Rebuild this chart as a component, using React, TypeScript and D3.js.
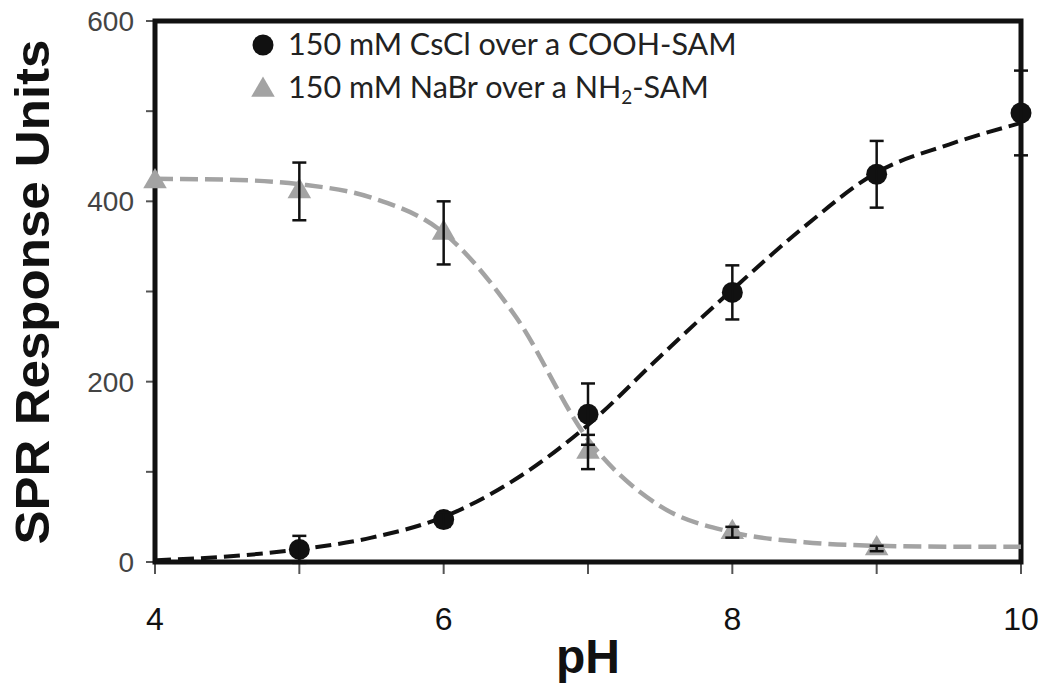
import React from "react";
import * as d3 from "d3";

// ---- data ----
const csclPH = [5, 6, 7, 8, 9, 10];
const csclMean = [14, 47, 164, 299, 430, 498];
const csclErr = [15, 8, 34, 30, 37, 47];

const nabrPH = [4, 5, 6, 7, 8, 9];
const nabrMean = [422, 411, 365, 122, 33, 15];
const nabrErr = [0, 32, 35, 19, 6, 3];

// fitted (dashed) curves
const fitPH = [4, 4.5, 5, 5.5, 6, 6.5, 7, 7.5, 8, 8.5, 9, 9.5, 10];
const csclFit = [2, 6, 14, 27, 50, 92, 152, 228, 302, 372, 432, 463, 487];
const nabrFit = [425, 424, 419, 404, 365, 272, 136, 62, 33, 22, 18, 17, 17];

const xTicks = [4, 6, 8, 10];
const xMinor = [4, 5, 6, 7, 8, 9, 10];
const yTicks = [0, 200, 400, 600];
const yMinor = [0, 100, 200, 300, 400, 500, 600];

const legendLabels = ["150 mM CsCl over a COOH-SAM", "150 mM NaBr over a NH", "-SAM"];

const W = 1050;
const H = 689;
const GRAY = "#a3a3a3";

export default function App() {
  const x = d3.scaleLinear().domain([4, 10]).range([155, 1021]);
  const y = d3.scaleLinear().domain([0, 600]).range([562, 21]);
  const [x0, x1] = x.range();
  const [y0, y1] = y.range();

  const line = d3
    .line<number>()
    .x((_, i) => x(fitPH[i]))
    .y((d) => y(d))
    .curve(d3.curveMonotoneX);

  const tri = d3.symbol().type(d3.symbolTriangle).size(240)() as string;

  const errBar = (px: number, m: number, e: number, key: string) => {
    if (e <= 0) return null;
    const cx = x(px);
    const top = y(m + e);
    const bot = y(m - e);
    return (
      <g key={key} stroke="#111" strokeWidth={2.5}>
        <line x1={cx} x2={cx} y1={top} y2={bot} />
        <line x1={cx - 7} x2={cx + 7} y1={top} y2={top} />
        <line x1={cx - 7} x2={cx + 7} y1={bot} y2={bot} />
      </g>
    );
  };

  return (
    <svg
      width={W}
      height={H}
      style={{ position: "absolute", left: 0, top: 0, background: "#fff" }}
      fontFamily="'Liberation Sans', Arial, sans-serif"
    >
      <rect width={W} height={H} fill="#fff" />

      {/* ticks */}
      {yMinor.map((v) => (
        <line key={"yt" + v} x1={x0 - 9} x2={x0} y1={y(v)} y2={y(v)} stroke="#555" strokeWidth={2} />
      ))}
      {xMinor.map((v) => (
        <line key={"xt" + v} x1={x(v)} x2={x(v)} y1={y0} y2={y0 + 12} stroke="#555" strokeWidth={2} />
      ))}

      {/* frame */}
      <rect x={x0} y={y1} width={x1 - x0} height={y0 - y1} fill="none" stroke="#111" strokeWidth={5} />

      {/* tick labels */}
      {yTicks.map((v) => (
        <text key={"yl" + v} x={134} y={y(v) + 10} textAnchor="end" fontSize={28} fill="#444">
          {v}
        </text>
      ))}
      {xTicks.map((v) => (
        <text key={"xl" + v} x={x(v)} y={630} textAnchor="middle" fontSize={32} fill="#111">
          {v}
        </text>
      ))}

      {/* axis titles */}
      <text
        transform={`translate(49, 292) rotate(-90)`}
        textAnchor="middle"
        fontSize={48}
        fontWeight="bold"
        fill="#111"
        textLength={505}
        lengthAdjust="spacingAndGlyphs"
      >
        SPR Response Units
      </text>
      <text x={588} y={673} textAnchor="middle" fontSize={48} fontWeight="bold" fill="#111">
        pH
      </text>

      {/* fitted curves */}
      <path d={line(nabrFit) || ""} fill="none" stroke={GRAY} strokeWidth={4.5} strokeDasharray="18,7" />
      <path d={line(csclFit) || ""} fill="none" stroke="#111" strokeWidth={4} strokeDasharray="16,7" />

      {/* markers */}
      {nabrPH.map((p, i) => (
        <path key={"tm" + i} d={tri} transform={`translate(${x(p)},${y(nabrMean[i])})`} fill={GRAY} />
      ))}
      {csclPH.map((p, i) => (
        <circle key={"cm" + i} cx={x(p)} cy={y(csclMean[i])} r={10.5} fill="#111" />
      ))}

      {/* error bars */}
      {nabrPH.map((p, i) => errBar(p, nabrMean[i], nabrErr[i], "te" + i))}
      {csclPH.map((p, i) => errBar(p, csclMean[i], csclErr[i], "ce" + i))}

      {/* legend */}
      <circle cx={263} cy={45} r={10.5} fill="#111" />
      <text x={288} y={55} fontSize={30.5} fontFamily="Lato, 'Open Sans', sans-serif" fill="#222">
        {legendLabels[0]}
      </text>
      <path d={tri} transform="translate(263,90)" fill={GRAY} />
      <text x={288} y={98} fontSize={30.5} fontFamily="Lato, 'Open Sans', sans-serif" fill="#222">
        {legendLabels[1]}
        <tspan fontSize={19} dy={6}>2</tspan>
        <tspan dy={-6}>{legendLabels[2]}</tspan>
      </text>
    </svg>
  );
}
